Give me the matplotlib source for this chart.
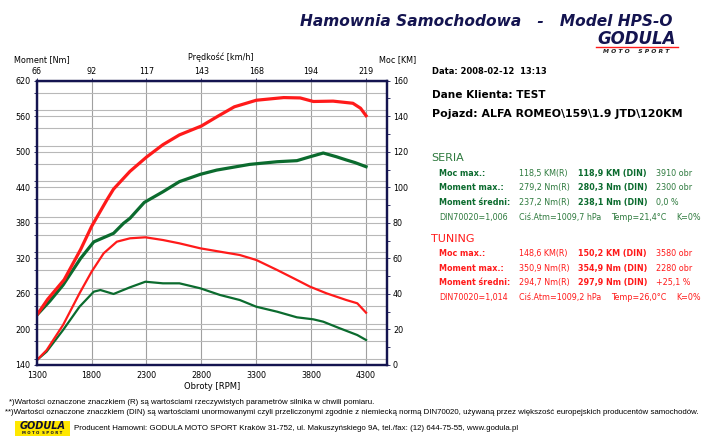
import matplotlib.pyplot as plt
from matplotlib.ticker import MultipleLocator
from matplotlib.patches import Rectangle

# axis ticks
rpm_ticks = [1300, 1800, 2300, 2800, 3300, 3800, 4300]
speed_labels = ['66', '92', '117', '143', '168', '194', '219']

# SERIA - moc [KM]
seria_moc_rpm = [1300, 1420, 1540, 1700, 1820, 2000, 2090, 2150, 2280, 2450, 2600, 2790,
                 2940, 3240, 3490, 3670, 3790, 3910, 4030, 4120, 4200, 4300]
seria_moc = [28, 36, 45, 60, 69.3, 74.1, 79.7, 82.6, 91.5, 97.5, 103.2, 107.3,
             109.7, 112.9, 114.4, 115, 117.2, 119.3, 117.2, 115.4, 113.9, 111.6]

# TUNING - moc [KM]
tuning_moc_rpm = [1300, 1400, 1550, 1700, 1800, 1940, 2000, 2150, 2300, 2450, 2600, 2800,
                  2950, 3100, 3300, 3550, 3700, 3820, 4000, 4180, 4250, 4300]
tuning_moc = [28, 37, 48, 65, 78, 93, 99, 109, 117, 124, 129.5, 134.5,
              140, 145.3, 149, 150.5, 150.3, 148.3, 148.5, 147.3, 144.5, 140.3]

# SERIA - moment [Nm]
seria_mom_rpm = [1300, 1390, 1540, 1690, 1820, 1880, 2000, 2150, 2290, 2450, 2600, 2790,
                 2970, 3150, 3300, 3490, 3670, 3820, 3910, 4060, 4220, 4300]
seria_mom = [148, 162.5, 199, 238.4, 263.8, 266.6, 259.9, 271.2, 280.6, 277.9, 277.9, 269.5,
             258.2, 249.7, 238.4, 230, 220.5, 217.1, 213.1, 202, 190.6, 182.2]

# TUNING - moment [Nm]
tuning_mom_rpm = [1300, 1390, 1540, 1690, 1800, 1910, 2030, 2150, 2290, 2450, 2600, 2790,
                  2970, 3150, 3300, 3490, 3640, 3790, 3940, 4120, 4220, 4300]
tuning_mom = [148, 165, 207.5, 261, 297.5, 328.6, 348.2, 353.9, 355.6, 351, 345.4, 337,
              331.3, 325.7, 317.3, 300.4, 286.4, 272.2, 261, 249.7, 244.2, 228.3]

W, H = 716, 438
navy = '#141450'
green = '#0b6b2e'
green_txt = '#2e7a3e'
red = '#ff1a1a'

fig = plt.figure(figsize=(W / 100, H / 100), dpi=100)
fig.patch.set_facecolor('white')


def fx(x):
    return x / W


def fy(y):
    return 1 - y / H


ax = fig.add_axes([fx(36.7), fy(365), (386.7 - 36.7) / W, (365 - 80.7) / H])
ax.set_xlim(1300, 4488)
ax.set_ylim(140, 620)
ax.set_xticks(rpm_ticks)
ax.set_yticks(range(140, 621, 60))
ax.yaxis.set_minor_locator(MultipleLocator(30))
ax.grid(axis='x', color='#a0a0a0', lw=0.8)
ax.grid(axis='y', which='both', color='#b8b8b8', lw=0.8)
ax.set_axisbelow(True)
ax.tick_params(axis='both', labelsize=5.8, length=2.5, width=0.6, color=navy, pad=2)
ax.tick_params(axis='y', which='minor', length=2, color=navy)
ax.tick_params(axis='x', length=0, pad=4)
for s in ax.spines.values():
    s.set_color(navy)
    s.set_linewidth(1.6)
ax.set_xlabel('Obroty [RPM]', fontsize=6, labelpad=2)

ax.plot(seria_mom_rpm, seria_mom, color=green, lw=1.6)
ax.plot(tuning_mom_rpm, tuning_mom, color=red, lw=1.6)

ax2 = ax.twinx()
ax2.set_ylim(0, 160)
ax2.set_yticks(range(0, 161, 20))
ax2.yaxis.set_minor_locator(MultipleLocator(10))
ax2.tick_params(axis='y', which='both', labelsize=5.8, length=2.5, width=0.6, color=navy, pad=2)
for s in ax2.spines.values():
    s.set_color(navy)
    s.set_linewidth(1.6)
ax2.plot(seria_moc_rpm, seria_moc, color=green, lw=2.3)
ax2.plot(tuning_moc_rpm, tuning_moc, color=red, lw=2.3)

top = ax.secondary_xaxis('top')
top.set_xticks(rpm_ticks)
top.set_xticklabels(speed_labels)
top.tick_params(labelsize=5.8, length=2.5, width=0.6, color=navy, pad=1)

fig.text(fx(14), fy(60), 'Moment [Nm]', fontsize=5.8, va='center')
fig.text(fx(221), fy(57.7), 'Prędkość [km/h]', fontsize=5.8, va='center', ha='center')
fig.text(fx(379), fy(60), 'Moc [KM]', fontsize=5.8, va='center')

# title and logo
fig.text(fx(300), fy(21), 'Hamownia Samochodowa   -   Model HPS-O', fontsize=11.1,
         fontweight='bold', fontstyle='italic', color=navy, va='center')
fig.text(fx(636.5), fy(39), 'GODULA', fontsize=12, fontweight='bold', fontstyle='italic',
         color=navy, va='center', ha='center')
fig.add_artist(plt.Line2D([fx(596), fx(678)], [fy(46.5), fy(46.5)], color=red, lw=1))
fig.text(fx(636.5), fy(51.5), 'M O T O    S P O R T', fontsize=4.3, fontweight='bold',
         fontstyle='italic', color='#202020', va='center', ha='center')

# header info
fig.text(fx(432), fy(72), 'Data: 2008-02-12  13:13', fontsize=6, fontweight='bold', va='center')
fig.text(fx(432), fy(95), 'Dane Klienta: TEST', fontsize=7.6, fontweight='bold', va='center')
fig.text(fx(432), fy(114), 'Pojazd: ALFA ROMEO\\159\\1.9 JTD\\120KM', fontsize=7.9,
         fontweight='bold', va='center')

# results tables
rows_seria = [
    ('Moc max.:', '118,5 KM(R)', '118,9 KM (DIN)', '3910 obr'),
    ('Moment max.:', '279,2 Nm(R)', '280,3 Nm (DIN)', '2300 obr'),
    ('Moment średni:', '237,2 Nm(R)', '238,1 Nm (DIN)', '0,0 %'),
]
rows_tuning = [
    ('Moc max.:', '148,6 KM(R)', '150,2 KM (DIN)', '3580 obr'),
    ('Moment max.:', '350,9 Nm(R)', '354,9 Nm (DIN)', '2280 obr'),
    ('Moment średni:', '294,7 Nm(R)', '297,9 Nm (DIN)', '+25,1 %'),
]
din_seria = ('DIN70020=1,006', 'Ciś.Atm=1009,7 hPa', 'Temp=21,4°C', 'K=0%')
din_tuning = ('DIN70020=1,014', 'Ciś.Atm=1009,2 hPa', 'Temp=26,0°C', 'K=0%')

fs = 5.8
for head, rows, din, y0, col, hcol in [('SERIA', rows_seria, din_seria, 158.3, green, green_txt),
                                       ('TUNING', rows_tuning, din_tuning, 238.7, red, red)]:
    fig.text(fx(431), fy(y0), head, fontsize=8, color=hcol, va='center')
    for i, (a, b, c, d) in enumerate(rows):
        y = y0 + 15 + i * 14.6
        fig.text(fx(439), fy(y), a, fontsize=fs, fontweight='bold', color=col, va='center')
        fig.text(fx(519), fy(y), b, fontsize=fs, color=hcol, va='center')
        fig.text(fx(578), fy(y), c, fontsize=fs, fontweight='bold', color=col, va='center')
        fig.text(fx(656), fy(y), d, fontsize=fs, color=hcol, va='center')
    y = y0 + 15 + 3 * 14.6
    for x, t in zip([439, 519, 611, 676], din):
        fig.text(fx(x), fy(y), t, fontsize=fs, color=hcol, va='center')

# footer
ff = 'Liberation Sans'
fig.text(fx(9), fy(403), '*)Wartości oznaczone znaczkiem (R) są wartościami rzeczywistych parametrów '
         'silnika w chwili pomiaru.', fontsize=5.65, family=ff, va='center')
fig.text(fx(5), fy(413), '**)Wartości oznaczone znaczkiem (DIN) są wartościami unormowanymi czyli '
         'przeliczonymi zgodnie z niemiecką normą DIN70020, używaną przez większość europejskich '
         'producentów samochodów.', fontsize=5.65, family=ff, va='center')
fig.add_artist(Rectangle((fx(15), fy(436)), 55 / W, 15 / H, transform=fig.transFigure,
                         facecolor='#ffe800', edgecolor='none'))
fig.text(fx(42.5), fy(426), 'GODULA', fontsize=7, fontweight='bold', fontstyle='italic',
         color='#101030', va='center', ha='center')
fig.text(fx(42.5), fy(433), 'M O T O  S P O R T', fontsize=2.8, fontweight='bold',
         color='#101030', va='center', ha='center')
fig.text(fx(74), fy(428.5), 'Producent Hamowni: GODULA MOTO SPORT Kraków 31-752, ul. Makuszyńskiego 9A, '
         'tel./fax: (12) 644-75-55, www.godula.pl', fontsize=5.65, family=ff, va='center')

fig.savefig('out.png', dpi=100)
